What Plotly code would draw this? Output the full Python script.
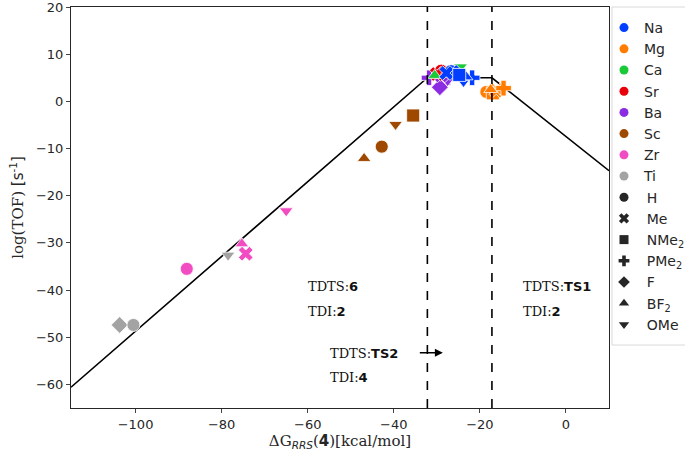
import plotly.graph_objects as go

# ---------------- data ----------------
metals = ["Na", "Mg", "Ca", "Sr", "Ba", "Sc", "Zr", "Ti"]
metal_colors = ["#023eff", "#ff7c00", "#1ac938", "#e8000b", "#8b2be2", "#9f4800", "#f14cc1", "#a3a3a3"]
ligands = ["H", "Me", "NMe<sub>2</sub>", "PMe<sub>2</sub>", "F", "BF<sub>2</sub>", "OMe"]
ligand_symbols = ["circle", "x", "square", "cross", "diamond", "triangle-up", "triangle-down"]

point_metal = ["Ti", "Ti", "Ti",
               "Zr", "Zr", "Zr", "Zr",
               "Sc", "Sc", "Sc", "Sc",
               "Ba", "Ba", "Ba", "Ba", "Ba",
               "Sr", "Sr",
               "Ca", "Ca",
               "Na", "Na", "Na", "Na", "Na", "Na", "Na",
               "Mg", "Mg", "Mg", "Mg", "Mg", "Mg"]
point_ligand = ["F", "H", "OMe",
                "H", "BF<sub>2</sub>", "Me", "OMe",
                "BF<sub>2</sub>", "H", "OMe", "NMe<sub>2</sub>",
                "PMe<sub>2</sub>", "NMe<sub>2</sub>", "F", "OMe", "Me",
                "H", "Me",
                "OMe", "BF<sub>2</sub>",
                "H", "F", "Me", "OMe", "PMe<sub>2</sub>", "BF<sub>2</sub>", "NMe<sub>2</sub>",
                "H", "NMe<sub>2</sub>", "Me", "OMe", "PMe<sub>2</sub>", "BF<sub>2</sub>"]
dG = [-103.7, -100.5, -78.5,
      -88.1, -75.3, -74.4, -65.0,
      -46.9, -42.8, -39.6, -35.5,
      -31.8, -28.3, -29.3, -27.5, -29.0,
      -29.0, -30.0,
      -24.5, -30.5,
      -26.7, -25.5, -27.8, -23.8, -21.8, -23.2, -24.8,
      -18.5, -17.0, -16.2, -15.3, -14.5, -17.5]
logTOF = [-47.4, -47.4, -32.6,
          -35.5, -30.2, -32.3, -23.2,
          -12.1, -9.6, -4.9, -3.0,
          5.0, 4.8, 3.0, 4.4, 5.5,
          6.5, 5.8,
          7.3, 5.5,
          6.4, 6.0, 6.0, 4.2, 5.0, 5.2, 5.6,
          2.0, 1.7, 2.3, 2.6, 2.8, 2.5]

# volcano line
volcano_x = [-115, -32.2, -17.2, 10]
volcano_y = [-60.6, 5.0, 5.0, -14.7]
# TDTS regime boundaries
boundaries = [-32.2, -17.2]

x_ticks = [-100, -80, -60, -40, -20, 0]
y_ticks = [20, 10, 0, -10, -20, -30, -40, -50, -60]

# ---------------- figure ----------------
fig = go.Figure()

fig.add_trace(go.Scatter(x=volcano_x, y=volcano_y, mode="lines",
                         line=dict(color="black", width=1.6), showlegend=False, hoverinfo="skip"))

cmap = dict(zip(metals, metal_colors))
smap = dict(zip(ligands, ligand_symbols))
for m, l, xv, yv in zip(point_metal, point_ligand, dG, logTOF):
    sym = smap[l]
    fig.add_trace(go.Scatter(
        x=[xv], y=[yv], mode="markers", showlegend=False,
        marker=dict(color=cmap[m], symbol=sym,
                    size=13 if sym not in ("triangle-up", "triangle-down") else 12,
                    line=dict(color="white", width=0.8))))

# legend entries
for m, c in zip(metals, metal_colors):
    fig.add_trace(go.Scatter(x=[None], y=[None], mode="markers", name=m,
                             marker=dict(color=c, symbol="circle", size=9)))
for l, s in zip(ligands, ligand_symbols):
    fig.add_trace(go.Scatter(x=[None], y=[None], mode="markers", name="\u2009" + l,
                             marker=dict(color="#262626", symbol=s, size=9)))

for b in boundaries:
    fig.add_shape(type="line", xref="x", yref="paper", x0=b, x1=b, y0=0, y1=1,
                  line=dict(color="black", width=1.6, dash="dash"))

# legend frame
fig.add_shape(type="rect", xref="paper", yref="paper", x0=1.0056, x1=1.2, y0=0.157, y1=1.0,
              line=dict(color="#d9d9d9", width=1), fillcolor="rgba(0,0,0,0)")

serif = "DejaVu Serif"
ann_font = dict(family=serif, size=13, color="#111")
annots = [
    (-60.4, -39.2, "TDTS:<b><span style='font-family:DejaVu Sans'>6</span></b>"),
    (-60.4, -44.6, "TDI:<b><span style='font-family:DejaVu Sans'>2</span></b>"),
    (-10.4, -39.2, "TDTS:<b><span style='font-family:DejaVu Sans'>TS1</span></b>"),
    (-10.4, -44.6, "TDI:<b><span style='font-family:DejaVu Sans'>2</span></b>"),
    (-55.3, -53.4, "TDTS:<b><span style='font-family:DejaVu Sans'>TS2</span></b>"),
    (-55.3, -58.5, "TDI:<b><span style='font-family:DejaVu Sans'>4</span></b>"),
]
for ax_, ay_, t in annots:
    fig.add_annotation(x=ax_, y=ay_, text=t, showarrow=False, xanchor="left",
                       yanchor="middle", font=ann_font)

fig.add_annotation(x=-28.6, y=-53.3, ax=-34.3, ay=-53.3, axref="x", ayref="y",
                   text="", showarrow=True, arrowhead=2, arrowsize=1.0,
                   arrowwidth=1.6, arrowcolor="black")

fig.update_layout(
    width=685, height=458,
    margin=dict(l=71, r=76, t=7, b=50, autoexpand=False),
    paper_bgcolor="white", plot_bgcolor="white",
    font=dict(family="DejaVu Sans", size=13, color="#262626"),
    legend=dict(x=0.9907, y=0.9875, xanchor="left", yanchor="top",
                font=dict(family="DejaVu Sans", size=14, color="#262626"),
                borderwidth=0, bgcolor="rgba(0,0,0,0)",
                itemwidth=30, tracegroupgap=0),
)
fig.update_xaxes(range=[-115, 10], tickvals=x_ticks, ticks="outside", ticklen=4,
                 showgrid=False, zeroline=False, showline=True, linecolor="#262626",
                 linewidth=1, mirror=True, tickfont=dict(size=13),
                 title=dict(text="ΔG<sub><i><span style='font-family:DejaVu Sans'>RRS</span></i></sub>(<b><span style='font-family:DejaVu Sans'>4</span></b>)[kcal/mol]",
                            font=dict(family=serif, size=15), standoff=2))
fig.update_yaxes(range=[-65, 20], tickvals=y_ticks, ticks="outside", ticklen=4,
                 showgrid=False, zeroline=False, showline=True, linecolor="#262626",
                 linewidth=1, mirror=True, tickfont=dict(size=13), ticklabeloverflow="allow",
                 title=dict(text="log(TOF) <span style='font-family:DejaVu Sans'>[s<sup>-1</sup>]</span>",
                            font=dict(family=serif, size=15), standoff=8))

fig.write_html("out.html", config={"displayModeBar": False},
               post_script="document.body.style.margin='0px';")
